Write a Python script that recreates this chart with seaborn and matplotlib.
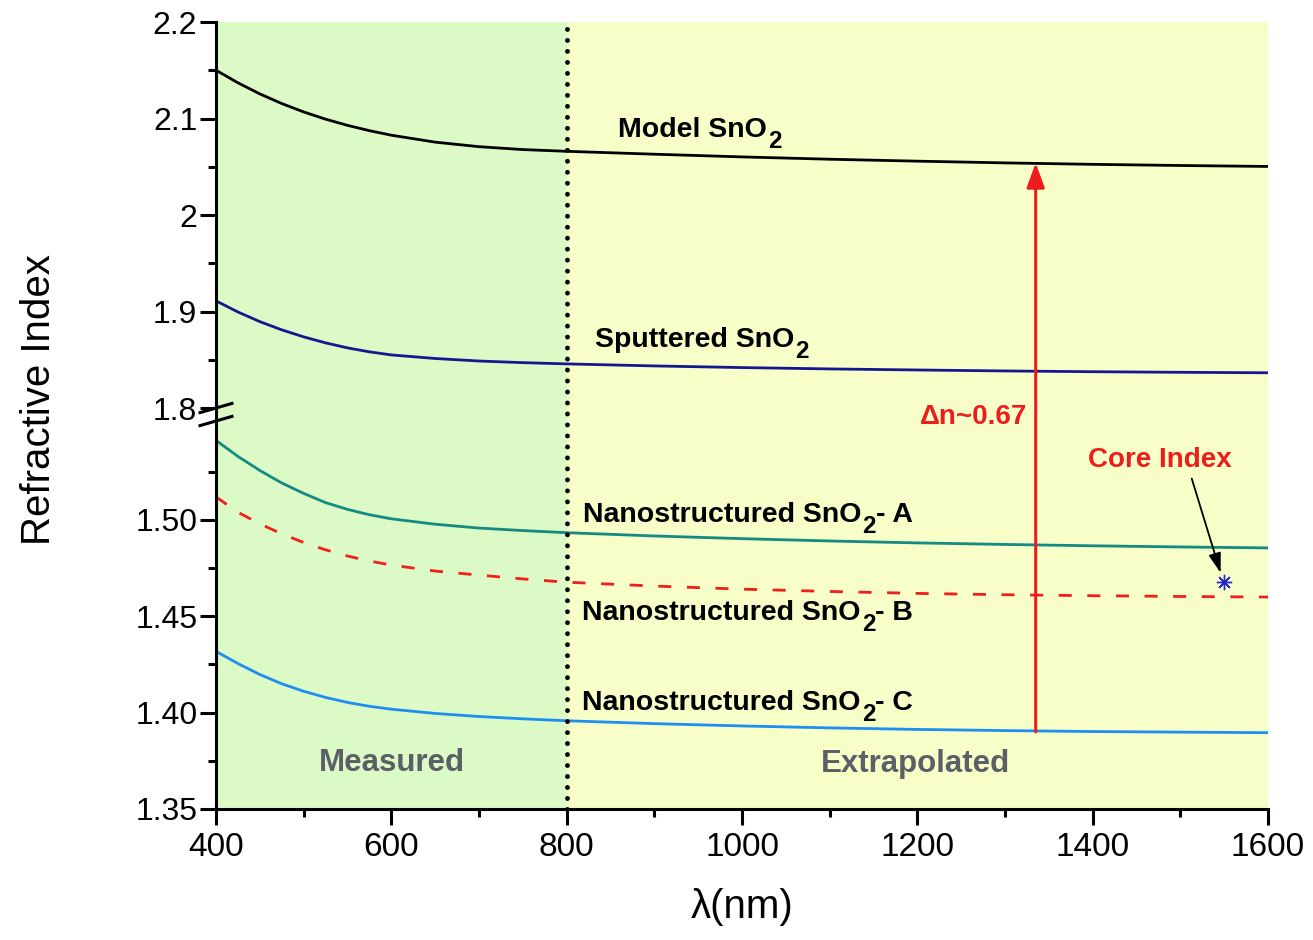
import numpy as np
import pandas as pd
import matplotlib
matplotlib.use("Agg")
import matplotlib.pyplot as plt
import seaborn as sns
from matplotlib.ticker import FixedLocator, FixedFormatter, NullFormatter

# ---- data -------------------------------------------------------------
wavelength = [400, 425, 450, 475, 500, 525, 550, 575, 600, 650, 700, 750, 800,
              900, 1000, 1100, 1200, 1300, 1400, 1500, 1600]

n_model = [2.1500, 2.1370, 2.1255, 2.1155, 2.1068, 2.0993, 2.0929, 2.0874, 2.0827,
           2.0755, 2.0708, 2.0678, 2.0660,
           2.0630, 2.0602, 2.0578, 2.0558, 2.0540, 2.0525, 2.0513, 2.0503]
n_sputtered = [1.9110, 1.8995, 1.8895, 1.8810, 1.8737, 1.8675, 1.8623, 1.8582, 1.8550,
               1.8513, 1.8487, 1.8470, 1.8457,
               1.8436, 1.8419, 1.8405, 1.8394, 1.8384, 1.8376, 1.8370, 1.8365]
n_nano_a = [1.5413, 1.5330, 1.5257, 1.5192, 1.5138, 1.5090, 1.5055, 1.5027, 1.5006,
            1.4978, 1.4958, 1.4945, 1.4934,
            1.4917, 1.4903, 1.4891, 1.4881, 1.4873, 1.4866, 1.4860, 1.4855]
n_nano_b = [1.5120, 1.5040, 1.4980, 1.4928, 1.4883, 1.4845, 1.4813, 1.4787, 1.4766,
            1.4735, 1.4714, 1.4694, 1.4677,
            1.4657, 1.4641, 1.4629, 1.4619, 1.4612, 1.4607, 1.4603, 1.4600]
n_nano_c = [1.4318, 1.4255, 1.4198, 1.4150, 1.4111, 1.4079, 1.4053, 1.4033, 1.4018,
            1.3996, 1.3980, 1.3968, 1.3958,
            1.3943, 1.3931, 1.3921, 1.3913, 1.3907, 1.3902, 1.3899, 1.3896]

sample_names = ["Model", "Sputtered", "Nano A", "Nano B", "Nano C"]

core_wavelength = 1550
core_index = 1.468

delta_wavelength = 1335
delta_low, delta_high = 1.390, 2.054

y_major = [1.35, 1.40, 1.45, 1.50, 1.8, 1.9, 2.0, 2.1, 2.2]
y_major_labels = ["1.35", "1.40", "1.45", "1.50", "1.8", "1.9", "2", "2.1", "2.2"]
y_minor = [1.375, 1.425, 1.475, 1.525, 1.85, 1.95, 2.05, 2.15]
x_major = [400, 600, 800, 1000, 1200, 1400, 1600]
x_minor = [500, 700, 900, 1100, 1300, 1500]

df = pd.DataFrame({
    "wavelength": wavelength * 5,
    "n": n_model + n_sputtered + n_nano_a + n_nano_b + n_nano_c,
    "sample": [s for s in sample_names for _ in wavelength],
})

palette = {"Model": "#000000", "Sputtered": "#16168e", "Nano A": "#138a82",
           "Nano B": "#f01e1e", "Nano C": "#1e8ef0"}
dashes = {"Model": "", "Sputtered": "", "Nano A": "", "Nano B": (4.7, 5.6), "Nano C": ""}

# ---- style ------------------------------------------------------------
sns.set_theme(style="ticks")
plt.rcParams["font.family"] = ["Liberation Sans", "DejaVu Sans"]
plt.rcParams["axes.linewidth"] = 2.2

fig = plt.figure(figsize=(13.13, 9.40), dpi=100)
ax = fig.add_axes([216 / 1313, 1 - 809 / 940, 1052 / 1313, 787 / 940])

# background bands: measured / extrapolated ranges
ax.axvspan(400, 800, color="#dcfac6", lw=0, zorder=0)
ax.axvspan(800, 1600, color="#f8fec8", lw=0, zorder=0)

sns.lineplot(data=df, x="wavelength", y="n", hue="sample", style="sample",
             palette=palette, dashes=dashes, linewidth=2.0, estimator=None,
             errorbar=None, legend=False, ax=ax, zorder=3)

# ---- broken y axis: lower band 1.35-1.555 at twice the scale of 1.8-2.2
band_vals = np.array([1.35, 1.555, 1.8, 2.2])
band_pos = np.array([0.0, 395.0, 401.0, 787.0])


def _piecewise(v, src, dst):
    v = np.asarray(v, dtype=float)
    out = np.interp(v, src, dst)
    lo_slope = (dst[1] - dst[0]) / (src[1] - src[0])
    hi_slope = (dst[-1] - dst[-2]) / (src[-1] - src[-2])
    out = np.where(v < src[0], dst[0] + (v - src[0]) * lo_slope, out)
    out = np.where(v > src[-1], dst[-1] + (v - src[-1]) * hi_slope, out)
    return out


ax.set_yscale("function", functions=(lambda v: _piecewise(v, band_vals, band_pos),
                                     lambda z: _piecewise(z, band_pos, band_vals)))
ax.set_ylim(1.35, 2.2)
ax.set_xlim(400, 1600)

ax.yaxis.set_major_locator(FixedLocator(y_major))
ax.yaxis.set_major_formatter(FixedFormatter(y_major_labels))
ax.yaxis.set_minor_locator(FixedLocator(y_minor))
ax.yaxis.set_minor_formatter(NullFormatter())
ax.xaxis.set_major_locator(FixedLocator(x_major))
ax.xaxis.set_minor_locator(FixedLocator(x_minor))
ax.xaxis.set_minor_formatter(NullFormatter())

ax.tick_params(axis="both", which="major", direction="out", length=11.5, width=2.2,
               color="black", labelcolor="black")
ax.tick_params(axis="both", which="minor", direction="out", length=6, width=2.2,
               color="black")
ax.tick_params(axis="y", which="major", labelsize=23, pad=2)
ax.tick_params(axis="x", which="major", labelsize=24, pad=5)

sns.despine(ax=ax, top=True, right=True)
for side in ("left", "bottom"):
    ax.spines[side].set_color("black")
    ax.spines[side].set_zorder(6)

# break marks on the left spine
for yb in (0.5095, 0.4930):
    ax.plot([-0.0166, 0.0166], [yb - 0.0064, yb + 0.0064], transform=ax.transAxes,
            color="black", lw=2.2, clip_on=False, zorder=7, solid_capstyle="butt")

ax.set_xlabel("λ(nm)", fontsize=29, color="black")
ax.set_ylabel("Refractive Index", fontsize=29, color="black")
ax.xaxis.set_label_coords(0.5, -0.100)
ax.yaxis.set_label_coords(-0.150, 0.52)

# measured / extrapolated boundary
ax.axvline(800, color="black", lw=3.5, linestyle=(0, (0.01, 2.25)),
           dash_capstyle="round", zorder=4)


# ---- annotations --------------------------------------------------------
def formula_label(x, y, head, sub, tail="", size=20.5):
    """Bold label with a large, dropped subscript (e.g. SnO2)."""
    kw = dict(fontweight="bold", color="black", zorder=5)
    t1 = ax.text(x, y, head, fontsize=size, ha="left", va="baseline", **kw)
    t2 = ax.annotate(sub, xy=(1, 0), xycoords=t1, xytext=(0.5, -7.5),
                     textcoords="offset points", fontsize=size * 0.85,
                     ha="left", va="bottom", **kw)
    if tail:
        ax.annotate(tail, xy=(1, 0), xycoords=t2, xytext=(0, 7.5),
                    textcoords="offset points", fontsize=size,
                    ha="left", va="bottom", **kw)


formula_label(859, 2.0811, "Model SnO", "2")
formula_label(832, 1.8635, "Sputtered SnO", "2")
formula_label(819, 1.4991, "Nanostructured SnO", "2", "- A")
formula_label(818, 1.4481, "Nanostructured SnO", "2", "- B")
formula_label(818, 1.4014, "Nanostructured SnO", "2", "- C")

region_kw = dict(fontsize=22.5, fontweight="bold", color="#5a6066", ha="center",
                 va="baseline", zorder=5)
ax.text(601, 1.3697, "Measured", **region_kw)
ax.text(1198, 1.3692, "Extrapolated", **region_kw)

# index contrast arrow
ax.annotate("", xy=(delta_wavelength, delta_high), xytext=(delta_wavelength, delta_low),
            arrowprops=dict(arrowstyle="-|>,head_length=0.6,head_width=0.22",
                            color="#ee1c1c", lw=2.2, mutation_scale=25,
                            shrinkA=0, shrinkB=0), zorder=5)
ax.text(1325, 1.5532, "Δn~0.67", fontsize=20, fontweight="bold", color="#ee1c1c",
        ha="right", va="center", zorder=5)

# core index marker
ax.plot([core_wavelength], [core_index], marker=(8, 2, 0), ms=11, mew=1.0,
        color="#2626c8", linestyle="none", zorder=6)
ax.text(1477, 1.5311, "Core Index", fontsize=20, fontweight="bold", color="#ee1c1c",
        ha="center", va="center", zorder=5)
ax.annotate("", xy=(core_wavelength - 4, core_index + 0.0045), xytext=(1513, 1.5215),
            arrowprops=dict(arrowstyle="-|>,head_length=0.8,head_width=0.25",
                            color="black", lw=1.3, mutation_scale=15,
                            shrinkA=0, shrinkB=0), zorder=6)

fig.savefig("out.png", dpi=100, facecolor="white")
